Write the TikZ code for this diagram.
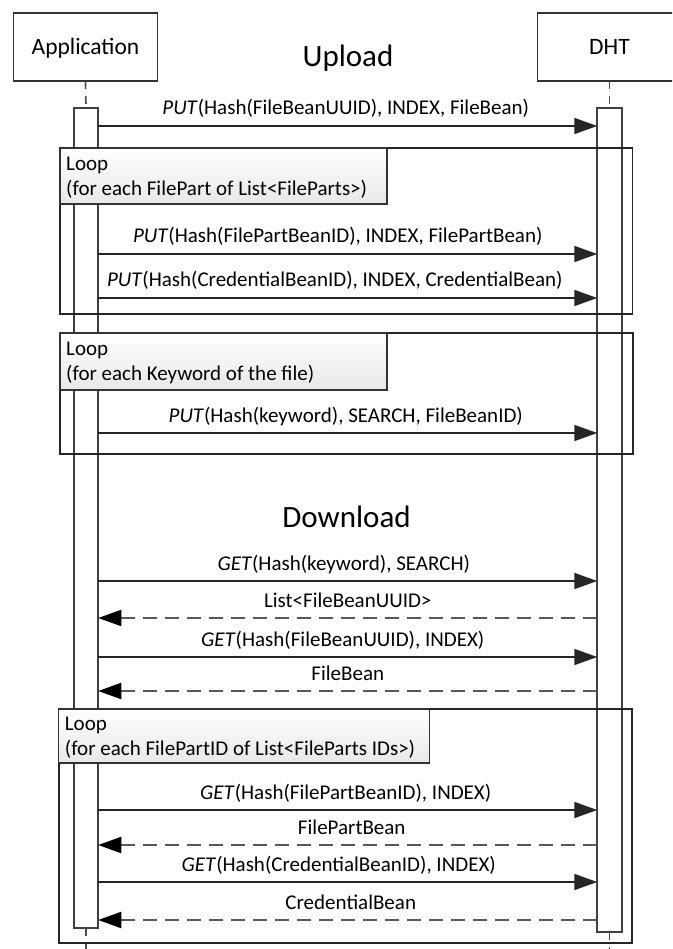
\documentclass[tikz,border=0pt]{standalone}
\usepackage{fontspec}
\setmainfont{Carlito}
\usetikzlibrary{arrows.meta}
\tikzset{
  part/.style={draw=black!80, line width=1.7pt, minimum width=144pt, minimum height=68pt,
    inner sep=0pt, outer sep=0pt, text height=16pt, text depth=0pt, font=\fontsize{23.5}{28}\selectfont},
  heading/.style={font=\fontsize{31}{36}\selectfont, inner sep=0pt, anchor=base},
  actbar/.style={draw=black!75, line width=1.7pt, minimum width=24.5pt, inner sep=0pt, outer sep=0pt},
  lifeline/.style={draw=black!70, line width=1.7pt, dash pattern=on 8pt off 7pt},
  msg/.style={draw=black!85, line width=1.8pt, -{Triangle[length=23pt,width=16pt]}},
  reply/.style={draw=black!65, line width=2.2pt, dash pattern=on 14pt off 8pt, -{Triangle[length=23pt,width=16pt,fill=black,color=black]}},
  lbl/.style={font=\fontsize{21}{24.5}\selectfont, inner sep=0pt, anchor=base, midway, yshift=11pt},
  frame/.style={draw=black!85, line width=1.8pt, inner sep=0pt, outer sep=0pt, anchor=north west},
  lbox/.style={draw=black!80, line width=1.5pt, inner sep=0pt, outer sep=0pt, anchor=north west,
    top color=white, bottom color=black!9},
  ltext/.style={font=\fontsize{21}{24.5}\selectfont, inner sep=0pt, anchor=north west, align=left},
}
\begin{document}
\begin{tikzpicture}[x=1pt,y=-1pt]
\useasboundingbox (0,0) rectangle (672,949);
\clip (0,0) rectangle (672,949);
\fill[white] (0,0) rectangle (672,949);

% participants
\node[part] (app) at (85.5,47) {Application};
\node[part] (dht) at (609.5,47) {DHT};
\node[heading] (upload) at (348,67) {Upload};
\node[heading] (download) at (346.5,527) {Download};

% activation bars
\node[actbar, minimum height=820pt] (appbar) at (86,518) {};
\node[actbar, minimum height=824pt] (dhtbar) at (609.5,520) {};

% lifelines
\coordinate (append) at (86,949);
\coordinate (dhtend) at (609.5,949);
\draw[lifeline] (app.south) -- (appbar.north);
\draw[lifeline] (dht.south) -- (dhtbar.north);
\draw[lifeline] (appbar.south) -- (append);
\draw[lifeline] (dhtbar.south) -- (dhtend);

% loop frames
\node[frame, minimum width=572.5pt, minimum height=166pt] (loop1) at (60,148) {};
\node[frame, minimum width=573pt, minimum height=121pt] (loop2) at (60,333) {};
\node[frame, minimum width=573pt, minimum height=234pt] (loop3) at (58.7,709) {};

\node[lbox, minimum width=327pt, minimum height=56pt] (lb1) at (60,148) {};
\node[ltext] (lt1) at ([shift={(6,9)}]lb1.north west) {Loop\\(for each FilePart of List<FileParts>)};
\node[lbox, minimum width=327pt, minimum height=57pt] (lb2) at (60,333) {};
\node[ltext] (lt2) at ([shift={(6,9)}]lb2.north west) {Loop\\(for each Keyword of the file)};
\node[lbox, minimum width=371pt, minimum height=54pt] (lb3) at (58.7,709) {};
\node[ltext] (lt3) at ([shift={(6,8)}]lb3.north west) {Loop\\(for each FilePartID of List<FileParts IDs>)};

% messages
\draw[msg] (appbar.east |- 0,126) -- node[lbl, xshift=-2pt] (m1) {\textit{PUT}(Hash(FileBeanUUID), INDEX, FileBean)} (dhtbar.west |- 0,126);
\draw[msg] (appbar.east |- 0,254) -- node[lbl, xshift=-10pt] (m2) {\textit{PUT}(Hash(FilePartBeanID), INDEX, FilePartBean)} (dhtbar.west |- 0,254);
\draw[msg] (appbar.east |- 0,298) -- node[lbl, xshift=-13pt] (m3) {\textit{PUT}(Hash(CredentialBeanID), INDEX, CredentialBean)} (dhtbar.west |- 0,298);
\draw[msg] (appbar.east |- 0,433) -- node[lbl, xshift=-2pt] (m4) {\textit{PUT}(Hash(keyword), SEARCH, FileBeanID)} (dhtbar.west |- 0,433);
\draw[msg] (appbar.east |- 0,581) -- node[lbl, xshift=-4pt] (m5) {\textit{GET}(Hash(keyword), SEARCH)} (dhtbar.west |- 0,581);
\draw[reply] (dhtbar.west |- 0,618) -- node[lbl] (m6) {List<FileBeanUUID>} (appbar.east |- 0,618);
\draw[msg] (appbar.east |- 0,657) -- node[lbl, xshift=-5pt] (m7) {\textit{GET}(Hash(FileBeanUUID), INDEX)} (dhtbar.west |- 0,657);
\draw[reply] (dhtbar.west |- 0,691) -- node[lbl] (m8) {FileBean} (appbar.east |- 0,691);
\draw[msg] (appbar.east |- 0,810) -- node[lbl, xshift=-2pt] (m9) {\textit{GET}(Hash(FilePartBeanID), INDEX)} (dhtbar.west |- 0,810);
\draw[reply] (dhtbar.west |- 0,845) -- node[lbl, xshift=4pt] (m10) {FilePartBean} (appbar.east |- 0,845);
\draw[msg] (appbar.east |- 0,882) -- node[lbl, xshift=-9pt] (m11) {\textit{GET}(Hash(CredentialBeanID), INDEX)} (dhtbar.west |- 0,882);
\draw[reply] (dhtbar.west |- 0,920) -- node[lbl, xshift=3pt] (m12) {CredentialBean} (appbar.east |- 0,920);
\end{tikzpicture}
\end{document}
